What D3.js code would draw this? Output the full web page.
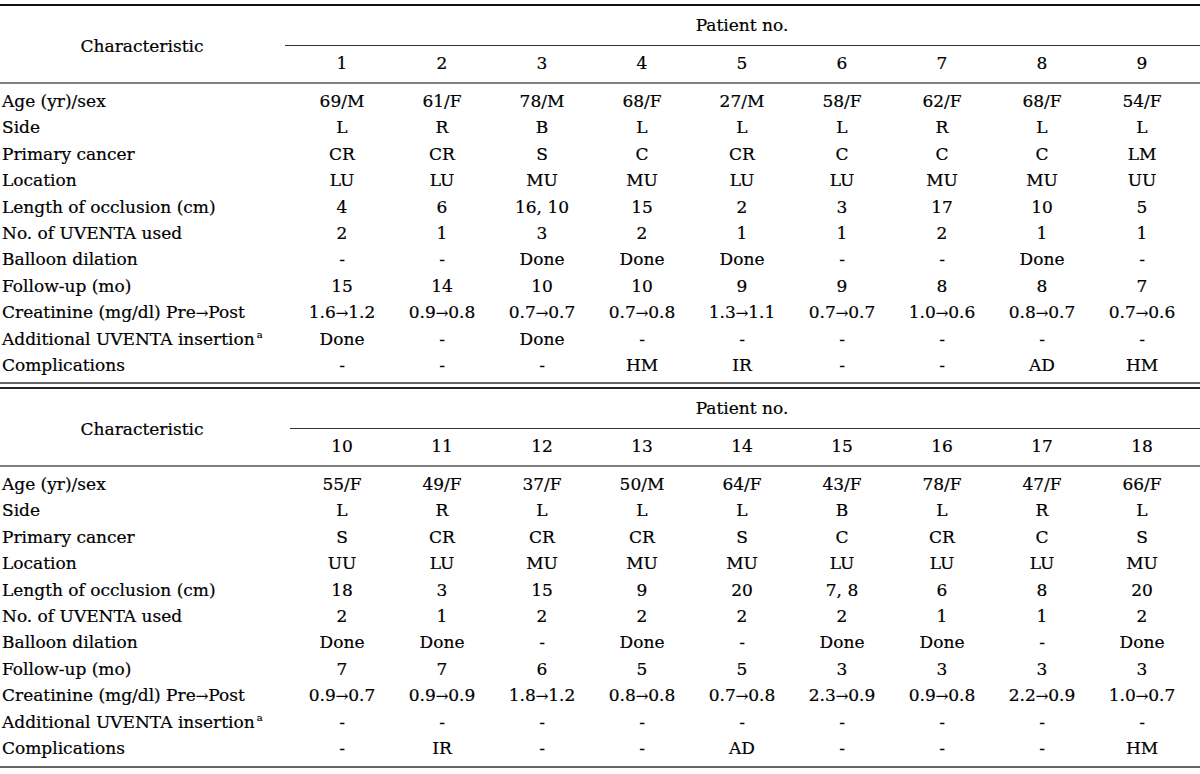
<!DOCTYPE html>
<html>
<head>
<meta charset="utf-8">
<script src="https://cdn.jsdelivr.net/npm/d3@7/dist/d3.min.js"></script>
<style>
  html, body { margin: 0; padding: 0; background: #fff; }
  svg { display: block; }
  text { font-family: "DejaVu Serif", serif; fill: #000; stroke: #000; stroke-width: 0.2px; }
</style>
</head>
<body>
<svg id="chart" width="1200" height="774"></svg>
<script>
// ---------- data ----------
const patients = [1,2,3,4,5,6,7,8,9,10,11,12,13,14,15,16,17,18];
const rowLabels = ["Age (yr)/sex","Side","Primary cancer","Location","Length of occlusion (cm)",
  "No. of UVENTA used","Balloon dilation","Follow-up (mo)","Creatinine (mg/dl) Pre\u2192Post",
  "Additional UVENTA insertion","Complications"];
const ageSex = ["69/M","61/F","78/M","68/F","27/M","58/F","62/F","68/F","54/F",
  "55/F","49/F","37/F","50/M","64/F","43/F","78/F","47/F","66/F"];
const side = ["L","R","B","L","L","L","R","L","L","L","R","L","L","L","B","L","R","L"];
const primaryCancer = ["CR","CR","S","C","CR","C","C","C","LM","S","CR","CR","CR","S","C","CR","C","S"];
const occlusionSite = ["LU","LU","MU","MU","LU","LU","MU","MU","UU","UU","LU","MU","MU","MU","LU","LU","LU","MU"];
const occlusionLength = ["4","6","16, 10","15","2","3","17","10","5","18","3","15","9","20","7, 8","6","8","20"];
const uventaUsed = [2,1,3,2,1,1,2,1,1,2,1,2,2,2,2,1,1,2];
const balloonDilation = ["-","-","Done","Done","Done","-","-","Done","-","Done","Done","-","Done","-","Done","Done","-","Done"];
const followUp = [15,14,10,10,9,9,8,8,7,7,7,6,5,5,3,3,3,3];
const creatininePre = ["1.6","0.9","0.7","0.7","1.3","0.7","1.0","0.8","0.7","0.9","0.9","1.8","0.8","0.7","2.3","0.9","2.2","1.0"];
const creatininePost = ["1.2","0.8","0.7","0.8","1.1","0.7","0.6","0.7","0.6","0.7","0.9","1.2","0.8","0.8","0.9","0.8","0.9","0.7"];
const additionalInsertion = ["Done","-","Done","-","-","-","-","-","-","-","-","-","-","-","-","-","-","-"];
const complications = ["-","-","-","HM","IR","-","-","AD","HM","-","IR","-","-","AD","-","-","-","HM"];

// ---------- build table rows ----------
const creat = creatininePre.map((p,i) => p + "\u2192" + creatininePost[i]);
const rowValues = [ageSex, side, primaryCancer, occlusionSite, occlusionLength, uventaUsed,
  balloonDilation, followUp, creat, additionalInsertion, complications];

const svg = d3.select("#chart");
const FS = 17;

// write text, slightly narrowing any arrow glyph
function fillText(sel, str) {
  const s = String(str);
  const parts = s.split("\u2192");
  parts.forEach((p, i) => {
    if (i > 0) sel.append("tspan").style("font-size", "15px").text("\u2192");
    sel.append("tspan").text(p);
  });
}

function drawTable(offsetY, ids, lineStart) {
  const g = svg.append("g").attr("transform", `translate(0,${offsetY})`);
  const x = d3.scalePoint().domain(ids).range([342, 1142]);
  const y = d3.scalePoint().domain(rowLabels).range([107, 371]);

  // header
  g.append("text").attr("x", 142).attr("y", 52).attr("text-anchor", "middle")
    .style("font-size", FS + "px").text("Characteristic");
  g.append("text").attr("x", 742).attr("y", 31).attr("text-anchor", "middle")
    .style("font-size", FS + "px").text("Patient no.");
  g.append("line").attr("x1", lineStart).attr("x2", 1200).attr("y1", 45.5).attr("y2", 45.5)
    .attr("stroke", "#333").attr("stroke-width", 1.2);
  g.selectAll("text.colhead").data(ids).join("text").attr("class", "colhead")
    .attr("x", d => x(d)).attr("y", 69).attr("text-anchor", "middle")
    .style("font-size", FS + "px").text(d => d);
  g.append("line").attr("x1", 0).attr("x2", 1200).attr("y1", 83).attr("y2", 83)
    .attr("stroke", "#555").attr("stroke-width", 1.3);

  // row labels
  g.selectAll("text.rowlab").data(rowLabels).join("text").attr("class", "rowlab")
    .attr("x", 2).attr("y", d => y(d)).style("font-size", FS + "px")
    .each(function(d) {
      const t = d3.select(this);
      fillText(t, d);
      if (d === "Additional UVENTA insertion")
        t.append("tspan").attr("dx", 2).attr("dy", -7).style("font-size", "10px").text("a");
    });

  // cells
  rowLabels.forEach((lab, ri) => {
    const vals = ids.map(id => ({id, v: rowValues[ri][id - 1]}));
    g.selectAll(null).data(vals).join("text")
      .attr("x", d => x(d.id)).attr("y", y(lab)).attr("text-anchor", "middle")
      .style("font-size", FS + "px").each(function(d) { fillText(d3.select(this), d.v); });
  });
}

// rules
svg.append("line").attr("x1", 0).attr("x2", 1200).attr("y1", 5).attr("y2", 5)
  .attr("stroke", "#111").attr("stroke-width", 2.2);
svg.append("line").attr("x1", 0).attr("x2", 1200).attr("y1", 383).attr("y2", 383)
  .attr("stroke", "#333").attr("stroke-width", 1.3);
svg.append("line").attr("x1", 0).attr("x2", 1200).attr("y1", 388).attr("y2", 388)
  .attr("stroke", "#222").attr("stroke-width", 2);
svg.append("line").attr("x1", 0).attr("x2", 1200).attr("y1", 767).attr("y2", 767)
  .attr("stroke", "#666").attr("stroke-width", 2.2);

drawTable(0, patients.slice(0, 9), 285);
drawTable(383, patients.slice(9), 290);
</script>
</body>
</html>
